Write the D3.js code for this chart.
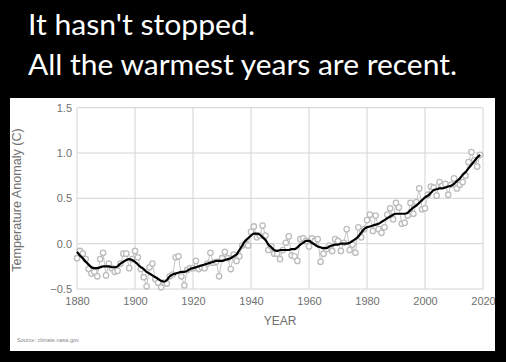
<!DOCTYPE html>
<html><head><meta charset="utf-8">
<script src="https://cdn.jsdelivr.net/npm/d3@7/dist/d3.min.js"></script>
<style>html,body{margin:0;padding:0;background:#000;overflow:hidden}</style>
</head><body><svg id="c" width="506" height="362"></svg>
<script>
const years = d3.range(1880, 2020);
const annual = [-0.16,-0.08,-0.11,-0.17,-0.28,-0.33,-0.31,-0.36,-0.17,-0.10,
-0.35,-0.22,-0.27,-0.31,-0.30,-0.22,-0.11,-0.11,-0.27,-0.17,
-0.08,-0.15,-0.28,-0.37,-0.47,-0.26,-0.22,-0.39,-0.43,-0.48,
-0.43,-0.44,-0.36,-0.34,-0.15,-0.14,-0.36,-0.46,-0.29,-0.27,
-0.27,-0.19,-0.28,-0.26,-0.27,-0.22,-0.10,-0.21,-0.20,-0.36,
-0.16,-0.09,-0.16,-0.28,-0.12,-0.19,-0.14,-0.02,0.00,-0.02,
0.13,0.19,0.07,0.09,0.20,0.09,-0.07,-0.03,-0.11,-0.11,
-0.17,-0.07,0.01,0.08,-0.13,-0.14,-0.19,0.05,0.06,0.03,
-0.03,0.06,0.03,0.05,-0.20,-0.11,-0.06,-0.02,-0.08,0.05,
0.03,-0.08,0.01,0.16,-0.07,-0.01,-0.10,0.18,0.07,0.16,
0.26,0.32,0.14,0.31,0.16,0.12,0.18,0.32,0.39,0.27,
0.45,0.40,0.22,0.23,0.31,0.45,0.33,0.46,0.61,0.38,
0.39,0.54,0.63,0.62,0.53,0.68,0.64,0.66,0.54,0.65,
0.72,0.61,0.65,0.68,0.75,0.90,1.01,0.92,0.85,0.98];
const smooth = [-0.09,-0.13,-0.16,-0.20,-0.23,-0.26,-0.27,-0.27,-0.26,-0.25,
-0.25,-0.25,-0.26,-0.26,-0.25,-0.22,-0.20,-0.18,-0.17,-0.18,
-0.20,-0.23,-0.26,-0.28,-0.31,-0.33,-0.35,-0.37,-0.39,-0.41,
-0.42,-0.40,-0.36,-0.34,-0.33,-0.32,-0.31,-0.31,-0.30,-0.28,
-0.27,-0.26,-0.25,-0.24,-0.23,-0.22,-0.21,-0.20,-0.19,-0.19,
-0.19,-0.18,-0.17,-0.16,-0.14,-0.12,-0.07,-0.02,0.03,0.06,
0.09,0.11,0.11,0.10,0.07,0.04,-0.01,-0.04,-0.07,-0.08,
-0.07,-0.07,-0.07,-0.07,-0.06,-0.06,-0.04,-0.01,0.01,0.03,
0.03,0.01,-0.01,-0.03,-0.04,-0.05,-0.05,-0.03,-0.02,-0.01,
-0.01,0.00,0.00,0.00,0.01,0.03,0.05,0.08,0.12,0.16,
0.18,0.19,0.20,0.21,0.22,0.24,0.26,0.28,0.30,0.32,
0.33,0.33,0.33,0.33,0.34,0.37,0.40,0.42,0.45,0.48,
0.51,0.53,0.56,0.59,0.60,0.61,0.61,0.62,0.63,0.64,
0.66,0.69,0.72,0.76,0.79,0.83,0.87,0.91,0.95,0.98];
const xTicks = [1880,1900,1920,1940,1960,1980,2000,2020];
const yTicks = [-0.5,0.0,0.5,1.0,1.5];
const titleLines = ["It hasn't stopped.","All the warmest years are recent."];

const svg = d3.select("#c");
svg.append("rect").attr("width",506).attr("height",362).attr("fill","#000");

// titles
const tl = [[35,227],[75,429]];
titleLines.forEach((t,i)=>{
  svg.append("text").attr("x",28).attr("y",tl[i][0]).text(t)
    .attr("fill","#fff").attr("font-family","Lato, 'Open Sans', sans-serif")
    .attr("font-size",28).attr("textLength",tl[i][1]).attr("lengthAdjust","spacingAndGlyphs");
});

// panel
svg.append("defs").append("clipPath").attr("id","pc").append("rect")
  .attr("x",10).attr("y",98).attr("width",485).attr("height",253);
svg.append("rect").attr("x",10).attr("y",98).attr("width",485).attr("height",253).attr("fill","#fff");
const g = svg.append("g").attr("clip-path","url(#pc)");

const x = d3.scaleLinear().domain([1880,2020]).range([77,483]);
const y = d3.scaleLinear().domain([-0.5,1.5]).range([289,107.7]);

// grid
g.append("g").selectAll("line").data(xTicks).join("line")
  .attr("x1",d=>x(d)).attr("x2",d=>x(d)).attr("y1",y(1.5)).attr("y2",y(-0.5))
  .attr("stroke","#d4d4d4").attr("stroke-width",1);
g.append("g").selectAll("line").data(yTicks).join("line")
  .attr("x1",x(1880)).attr("x2",x(2020)).attr("y1",d=>y(d)).attr("y2",d=>y(d))
  .attr("stroke","#d4d4d4").attr("stroke-width",1);

// axes labels
const font = "'Liberation Sans', Arial, Helvetica, sans-serif";
const xa = g.append("g").attr("transform",`translate(0,${y(-0.5)})`)
  .call(d3.axisBottom(x).tickValues(xTicks).tickFormat(d3.format("d")).tickSize(0).tickPadding(8));
xa.select(".domain").remove();
xa.selectAll("text").attr("fill","#707070").attr("font-family",font).attr("font-size",11);
const ya = g.append("g").attr("transform",`translate(${x(1880)},0)`)
  .call(d3.axisLeft(y).tickValues(yTicks).tickFormat(d3.format(".1f")).tickSize(0).tickPadding(5));
ya.select(".domain").remove();
ya.selectAll("text").attr("fill","#707070").attr("font-family",font).attr("font-size",11);

g.append("text").attr("x",280).attr("y",325).attr("text-anchor","middle").text("YEAR")
  .attr("fill","#707070").attr("font-family",font).attr("font-size",12);
g.append("text").attr("transform","translate(20.5,200) rotate(-90)").attr("text-anchor","middle")
  .text("Temperature Anomaly (C)").attr("fill","#707070").attr("font-family",font).attr("font-size",12.6);
g.append("text").attr("x",17).attr("y",342).text("Source: climate.nasa.gov")
  .attr("fill","#888").attr("font-family",font).attr("font-size",5.5);

// annual series
const data = years.map((yr,i)=>({yr, a:annual[i], s:smooth[i]}));
g.append("path").datum(data).attr("fill","none").attr("stroke","#c4c4c4").attr("stroke-width",1)
  .attr("d",d3.line().x(d=>x(d.yr)).y(d=>y(d.a)));
g.append("g").selectAll("circle").data(data).join("circle")
  .attr("cx",d=>x(d.yr)).attr("cy",d=>y(d.a)).attr("r",2.7)
  .attr("fill","#fff").attr("stroke","#bcbcbc").attr("stroke-width",1.3);
g.append("path").datum(data).attr("fill","none").attr("stroke","#000").attr("stroke-width",2.2)
  .attr("stroke-linejoin","round")
  .attr("d",d3.line().curve(d3.curveMonotoneX).x(d=>x(d.yr)).y(d=>y(d.s)));
</script></body></html>
